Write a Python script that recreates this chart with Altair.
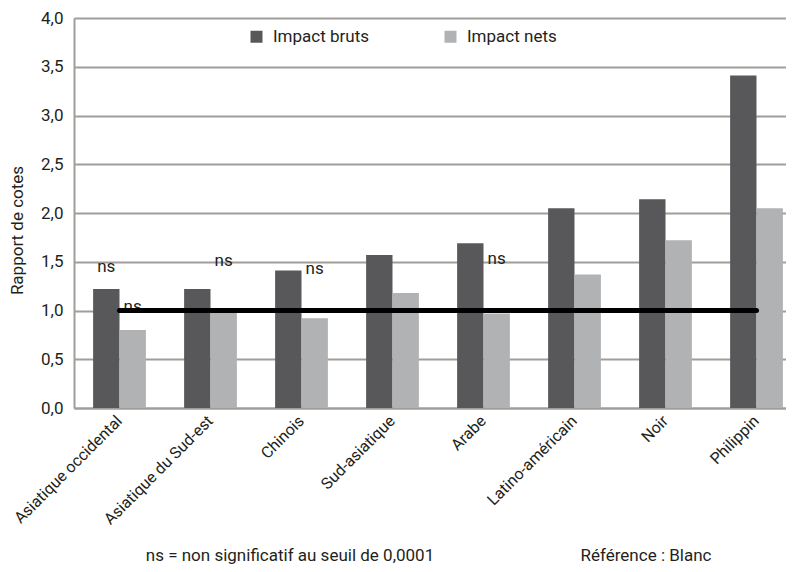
import altair as alt
import pandas as pd

categories = ["Asiatique occidental", "Asiatique du Sud-est", "Chinois", "Sud-asiatique",
              "Arabe", "Latino-américain", "Noir", "Philippin"]
bruts = [1.22, 1.22, 1.41, 1.57, 1.69, 2.05, 2.14, 3.41]
nets = [0.80, 0.98, 0.92, 1.18, 0.97, 1.37, 1.72, 2.05]
series_names = ["Impact bruts", "Impact nets"]
series_colors = ["#58585a", "#b1b2b4"]

ns_categories = ["Asiatique occidental", "Asiatique occidental", "Asiatique du Sud-est", "Chinois", "Arabe"]
ns_series = ["Impact bruts", "Impact nets", "Impact nets", "Impact nets", "Impact nets"]
ns_values = [1.45, 1.04, 1.51, 1.43, 1.53]
ns_text = "ns"

reference_value = 1.0
y_ticks = [0, 0.5, 1.0, 1.5, 2.0, 2.5, 3.0, 3.5, 4.0]
y_title = "Rapport de cotes"
footer_left = "ns = non significatif au seuil de 0,0001"
footer_right = "Référence : Blanc"

FONT = "Roboto"
TXT = "#231f20"
GRID = "#a19e9a"

rows = []
for c, b, n in zip(categories, bruts, nets):
    rows.append({"cat": c, "series": series_names[0], "value": b})
    rows.append({"cat": c, "series": series_names[1], "value": n})
df = pd.DataFrame(rows)

df_ns = pd.DataFrame({"cat": ns_categories, "series": ns_series, "value": ns_values,
                      "label": [ns_text] * len(ns_values)})
df_ref = pd.DataFrame({"cat": categories, "value": [reference_value] * len(categories)})

x_scale = alt.Scale(domain=categories, paddingInner=0.42, paddingOuter=0.21, range=[0, 728])
y_scale = alt.Scale(domain=[0, 4])
off_scale = alt.Scale(domain=series_names, paddingInner=0, paddingOuter=0)

x_enc = alt.X("cat:N", scale=x_scale, sort=categories,
              axis=alt.Axis(title=None, labelAngle=-45, labelAlign="right", labelBaseline="middle",
                            labelPadding=10, labelFontSize=16, labelFont=FONT, labelColor=TXT,
                            ticks=False, domainColor=GRID, domainWidth=2, grid=False))
y_enc = alt.Y("value:Q", scale=y_scale,
              axis=alt.Axis(values=y_ticks, title=y_title,
                            labelExpr="replace(format(datum.value, '.1f'), '.', ',')",
                            labelFontSize=17, labelFont=FONT, labelColor=TXT, labelPadding=11,
                            ticks=False, domainColor=GRID, domainWidth=2,
                            gridColor=GRID, gridWidth=2,
                            titleFont=FONT, titleFontSize=17, titleFontWeight="normal",
                            titleColor=TXT, titleX=-48, titleY=212, titleAngle=270,
                            titleAlign="center", titleBaseline="bottom"))

bars = alt.Chart(df).mark_bar().encode(
    x=x_enc,
    xOffset=alt.XOffset("series:N", sort=series_names, scale=off_scale),
    y=y_enc,
    color=alt.Color("series:N", scale=alt.Scale(domain=series_names, range=series_colors),
                    legend=alt.Legend(title=None, orient="none", legendX=174, legendY=10,
                                      direction="horizontal", symbolType="square",
                                      symbolSize=144, symbolStrokeWidth=0,
                                      labelFontSize=17, labelFont=FONT, labelColor=TXT,
                                      columnPadding=72, labelOffset=8)),
)

ns_marks = alt.Chart(df_ns).mark_text(font=FONT, fontSize=17, color=TXT).encode(
    x=alt.X("cat:N", scale=x_scale, sort=categories),
    xOffset=alt.XOffset("series:N", sort=series_names, scale=off_scale),
    y=alt.Y("value:Q", scale=y_scale),
    text="label:N",
)

ref_line = alt.Chart(df_ref).mark_line(color="#000000", strokeWidth=5, strokeCap="round").encode(
    x=alt.X("cat:N", scale=x_scale, sort=categories),
    y=alt.Y("value:Q", scale=y_scale),
)

foot1 = alt.Chart(pd.DataFrame({"t": [footer_left]})).mark_text(
    font=FONT, fontSize=17, color=TXT, align="center", baseline="middle").encode(
    x=alt.value(216), y=alt.value(538), text="t:N")
foot2 = alt.Chart(pd.DataFrame({"t": [footer_right]})).mark_text(
    font=FONT, fontSize=17, color=TXT, align="center", baseline="middle").encode(
    x=alt.value(572), y=alt.value(538), text="t:N")

chart = alt.layer(bars, ns_marks, ref_line, foot1, foot2).properties(
    width=712, height=390,
    autosize=alt.AutoSizeParams(type="none"),
    padding={"left": 66, "top": 10, "right": 0, "bottom": 156},
).configure_view(stroke=None).configure(background="#ffffff")

chart.save("out.html", embed_options={"renderer": "svg", "actions": False})
